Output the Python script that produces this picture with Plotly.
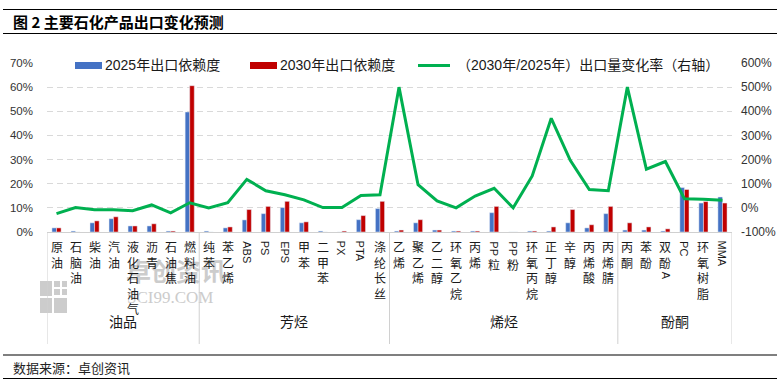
import plotly.graph_objects as go

W, H = 780, 384

categories = ["原油", "石脑油", "柴油", "汽油", "液化石油气", "沥青", "石油焦", "燃料油",
              "纯苯", "苯乙烯", "ABS", "PS", "EPS", "甲苯", "二甲苯", "PX", "PTA", "涤纶长丝",
              "乙烯", "聚乙烯", "乙二醇", "环氧乙烷", "丙烯", "PP粒", "PP粉", "环氧丙烷", "正丁醇",
              "辛醇", "丙烯酸", "丙烯腈",
              "丙酮", "苯酚", "双酚A", "PC", "环氧树脂", "MMA"]
groups = ["油品", "芳烃", "烯烃", "酚酮"]
group_sizes = [8, 10, 12, 6]

dep_2025 = [1.7, 0.4, 3.8, 5.5, 2.5, 2.5, 0.4, 49.7,
            0.4, 1.7, 5.0, 7.6, 10.1, 3.8, 0.4, 0.0, 5.1, 9.7,
            0.4, 3.8, 0.8, 0.4, 0.4, 8.0, 0.0, 0.4, 0.4, 3.8, 1.7, 7.6,
            0.8, 0.8, 0.4, 18.4, 12.0, 14.5]
dep_2030 = [1.7, 0.0, 4.6, 6.3, 2.5, 3.4, 0.4, 60.6,
            0.0, 2.1, 9.3, 10.6, 12.7, 4.2, 0.0, 0.4, 6.8, 12.7,
            0.8, 5.1, 0.8, 0.4, 0.4, 10.6, 0.0, 0.4, 2.1, 9.3, 3.0, 10.6,
            3.8, 2.1, 1.3, 17.6, 12.6, 12.0]
change_rate = [-24, 1, -8, -8, -12, 12, -21, 21,
               0, 21, 118, 71, 54, 33, 1, 1, 51, 54,
               500, 96, 29, 0, 49, 81, 0, 132, 371, 197, 76, 71,
               500, 160, 192, 38, 36, 31]

left_ticks = [0, 10, 20, 30, 40, 50, 60, 70]
right_ticks = [-100, 0, 100, 200, 300, 400, 500, 600]

name_2025 = "2025年出口依赖度"
name_2030 = "2030年出口依赖度"
name_rate = "（2030年/2025年）出口量变化率（右轴）"
title_text = "图 2 主要石化产品出口变化预测"
source_text = "数据来源：卓创资讯"

BLUE, RED, GREEN = "#4472c4", "#c00000", "#00b050"
FONT = "Liberation Sans, Noto Sans CJK SC, sans-serif"
CJK = "Noto Sans CJK SC, sans-serif"

# plot area in pixels
PL, PR, PT, PB = 47, 732, 63, 232


def X(px):
    return px / W


def Y(py):
    return 1 - py / H


fig = go.Figure()
fig.add_trace(go.Bar(x=categories, y=dep_2025, name=name_2025, marker_color=BLUE,
                     showlegend=False))
fig.add_trace(go.Bar(x=categories, y=dep_2030, name=name_2030, marker_color=RED,
                     showlegend=False))
fig.add_trace(go.Scatter(x=categories, y=change_rate, name=name_rate, yaxis="y2",
                         mode="lines", line=dict(color=GREEN, width=3),
                         showlegend=False))

annotations = []
shapes = []

# watermark
wm = "#cccccc"
for (x0, y0, x1, y1) in [(40, 281, 52, 296), (40, 298, 52, 313), (54, 281, 60, 287),
                         (62, 281, 67, 287), (54, 289, 60, 295), (62, 289, 67, 295),
                         (54, 298, 67, 313)]:
    shapes.append(dict(type="rect", xref="paper", yref="paper", x0=X(x0), x1=X(x1),
                       y0=Y(y0), y1=Y(y1), fillcolor=wm, line=dict(width=0), layer="below"))
annotations.append(dict(text="<b>卓创资讯</b>", x=X(124), y=Y(290), xref="paper", yref="paper",
                        showarrow=False, font=dict(family=CJK, size=25, color=wm)))
annotations.append(dict(text="SCI99.COM", x=X(125), y=Y(309), xref="paper", yref="paper",
                        showarrow=False,
                        font=dict(family="Liberation Serif, serif", size=17, color=wm)))

# vertical category labels
LAT_W = {"A": .667, "B": .667, "S": .667, "P": .667, "E": .667, "T": .611, "X": .667,
         "C": .722, "M": .833}
LFS = 11
CFS = 12
PITCH = 1.3 * CFS
for cat in categories:
    pos = 240.0
    runs = []
    for ch in cat:
        kind = "lat" if ch.isascii() else "cjk"
        if runs and runs[-1][0] == kind:
            runs[-1][1] += ch
        else:
            runs.append([kind, ch])
    for kind, txt in runs:
        if kind == "cjk":
            annotations.append(dict(text="<br>".join(txt), x=cat, xref="x", y=Y(pos - 3),
                                    yref="paper", yanchor="top", showarrow=False, borderpad=0,
                                    font=dict(family=CJK, size=CFS, color="#1a1a1a")))
            pos += PITCH * len(txt)
        else:
            L = sum(LAT_W.get(c, .65) for c in txt) * LFS
            annotations.append(dict(text=txt, x=cat, xref="x", y=Y(pos), yref="paper",
                                    yanchor="top", textangle=90, showarrow=False, borderpad=0,
                                    font=dict(family=FONT, size=LFS, color="#1a1a1a")))
            pos += L + 3

# group labels and dividers
start = 0
bounds = [-0.5]
for g, n in zip(groups, group_sizes):
    mid = start + (n - 1) / 2
    annotations.append(dict(text=g, x=mid, xref="x", y=Y(333), yref="paper",
                            showarrow=False, font=dict(family=CJK, size=14, color="#1a1a1a")))
    start += n
    bounds.append(start - 0.5)
for b in bounds:
    shapes.append(dict(type="line", xref="x", yref="paper", x0=b, x1=b, y0=Y(PB), y1=Y(344),
                       line=dict(color="#d0d0d0", width=1)))

# legend (manual)
LY = 65.5
shapes.append(dict(type="rect", xref="paper", yref="paper", x0=X(75), x1=X(102),
                   y0=Y(LY - 3.5), y1=Y(LY + 3.5), fillcolor=BLUE, line=dict(width=0),
                   layer="above"))
shapes.append(dict(type="rect", xref="paper", yref="paper", x0=X(250), x1=X(277),
                   y0=Y(LY - 3.5), y1=Y(LY + 3.5), fillcolor=RED, line=dict(width=0),
                   layer="above"))
shapes.append(dict(type="line", xref="paper", yref="paper", x0=X(418), x1=X(450),
                   y0=Y(LY), y1=Y(LY), line=dict(color=GREEN, width=3), layer="above"))
for txt, xp in [(name_2025, 104), (name_2030, 279), (name_rate, 456)]:
    annotations.append(dict(text=txt, x=X(xp), y=Y(LY), xref="paper", yref="paper",
                            xanchor="left", yanchor="middle", showarrow=False,
                            bgcolor="white", borderpad=0,
                            font=dict(family=FONT, size=14, color="#1a1a1a")))

# title & source
annotations.append(dict(text="<b>" + title_text + "</b>", x=X(11), y=Y(21), xref="paper",
                        yref="paper", xanchor="left", yanchor="middle", showarrow=False,
                        font=dict(family=CJK, size=15, color="#000000")))
annotations.append(dict(text=source_text, x=X(11), y=Y(367), xref="paper", yref="paper",
                        xanchor="left", yanchor="middle", showarrow=False,
                        font=dict(family=CJK, size=13, color="#222222")))
for yy, wd in [(9.5, 1.2), (33.5, 1), (355, 1.2), (378.5, 1)]:
    shapes.append(dict(type="line", xref="paper", yref="paper", x0=X(3), x1=X(777),
                       y0=Y(yy), y1=Y(yy), line=dict(color="#000000", width=wd)))

fig.update_layout(
    width=W, height=H,
    margin=dict(l=0, r=0, t=0, b=0, pad=0),
    paper_bgcolor="white", plot_bgcolor="white",
    barmode="group", bargap=0.52, bargroupgap=0,
    showlegend=False,
    hovermode=False,
    font=dict(family=FONT, size=12, color="#333333"),
    xaxis=dict(type="category", domain=[X(PL), X(PR)], range=[-0.5, len(categories) - 0.5],
               showticklabels=False, showgrid=False, ticks="", showline=True,
               linecolor="#d0d0d0", linewidth=1, automargin=False, fixedrange=True),
    yaxis=dict(domain=[Y(PB), Y(PT)], range=[0, 70], tickvals=left_ticks,
               ticktext=[f"{v}%" for v in left_ticks], showgrid=True,
               gridcolor="#d9d9d9", griddash="6px,4px", gridwidth=1, zeroline=False,
               ticks="", ticklabelstandoff=13, automargin=False,
               tickfont=dict(family=FONT, size=11.5, color="#333333")),
    yaxis2=dict(overlaying="y", side="right", range=[-100, 600], tickvals=right_ticks,
                ticktext=[f"{v}%" for v in right_ticks], showgrid=False, zeroline=False,
                ticks="", ticklabelstandoff=8, automargin=False, anchor="x",
                tickfont=dict(family=FONT, size=12, color="#333333")),
    annotations=annotations,
    shapes=shapes,
)

fig.write_html("out.html",
               config={"displayModeBar": False, "staticPlot": True},
               post_script="document.body.style.margin='0';document.body.style.overflow='hidden';")
